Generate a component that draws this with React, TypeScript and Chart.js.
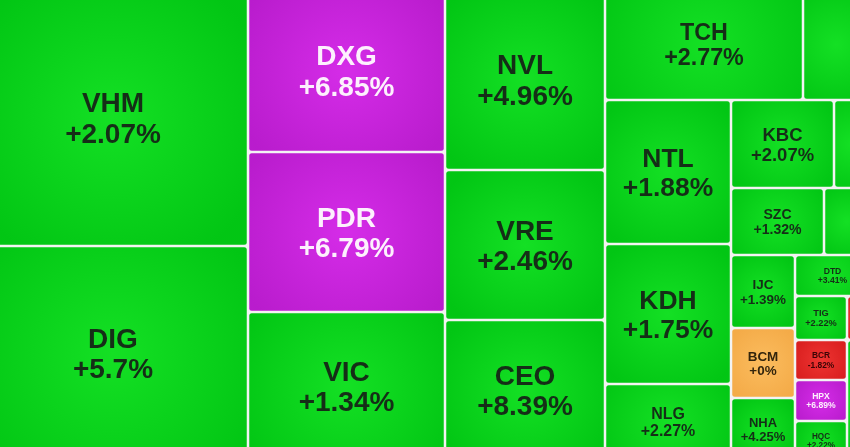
import React, { useEffect, useRef } from "react";
import { Chart, registerables } from "chart.js";

Chart.register(...registerables);

// ---- data ----
const tickers = [
  "VHM", "DIG", "DXG", "PDR", "VIC", "NVL", "VRE", "CEO", "TCH", "",
  "NTL", "KDH", "NLG", "KBC", "", "SZC", "", "IJC", "BCM", "NHA",
  "DTD", "TIG", "BCR", "HPX", "HQC", "", "",
];
// % change (null = cell cut off, value not readable)
const changes: (number | null)[] = [
  2.07, 5.7, 6.85, 6.79, 1.34, 4.96, 2.46, 8.39, 2.77, null,
  1.88, 1.75, 2.27, 2.07, null, 1.32, null, 1.39, 0, 4.25,
  3.41, 2.22, -1.82, 6.89, 2.22, null, null,
];
// trend of the cut-off cells (only their colour is visible)
const hiddenTrend = [1, 1, 1, -1, 1];
// stocks at ceiling price
const ceilingStocks = ["DXG", "PDR", "HPX"];
// cell weights (size of each stock)
const weights = [
  69390, 57780, 32111, 31520, 29156, 28960, 24000, 22400, 21978, 7437,
  18144, 17640, 9576, 9064, 3168, 6231, 3082, 4672, 4480, 3968,
  3075, 2288, 2080, 2132, 2028, 1012, 2760,
];

// ---- grouping tree (h = side by side, v = stacked) ----
type Node = number | { dir: "h" | "v"; kids: Node[] };
const H = (...kids: Node[]): Node => ({ dir: "h", kids });
const V = (...kids: Node[]): Node => ({ dir: "v", kids });

const tree: Node = H(
  V(0, 1),
  V(2, 3, 4),
  V(5, 6, 7),
  V(
    H(8, 9),
    H(
      V(10, 11, 12),
      V(
        H(13, 14),
        H(15, 16),
        H(V(17, 18, 19), V(20, H(V(21, 22, 23, 24), V(25, 26))))
      )
    )
  )
);

function weightOf(n: Node): number {
  if (typeof n === "number") return weights[n];
  return n.kids.reduce((s, k) => s + weightOf(k), 0);
}

type Rect = { i: number; x0: number; y0: number; x1: number; y1: number };
function layout(n: Node, x0: number, y0: number, x1: number, y1: number, out: Rect[]) {
  if (typeof n === "number") {
    out.push({ i: n, x0, y0, x1, y1 });
    return;
  }
  const total = weightOf(n);
  let acc = 0;
  for (const k of n.kids) {
    const a = acc / total;
    acc += weightOf(k);
    const b = acc / total;
    if (n.dir === "h") layout(k, x0 + (x1 - x0) * a, y0, x0 + (x1 - x0) * b, y1, out);
    else layout(k, x0, y0 + (y1 - y0) * a, x1, y0 + (y1 - y0) * b, out);
  }
}

function palette(i: number) {
  const t = tickers[i];
  let hiddenIdx = -1;
  for (let k = 0, c = 0; k <= i; k++) if (changes[k] === null) { if (k === i) hiddenIdx = c; c++; }
  const v = changes[i] !== null ? (changes[i] as number) : hiddenTrend[hiddenIdx];
  if (ceilingStocks.includes(t)) return { inner: "#d52ce8", outer: "#b91ccd", text: "#fdf0fd" };
  if (v > 0) return { inner: "#14e024", outer: "#02c614", text: "#152e17" };
  if (v < 0) return { inner: "#ee3432", outer: "#d81e1e", text: "#3a0505" };
  return { inner: "#fbbc5e", outer: "#f4ab48", text: "#33250c" };
}

const treemapPlugin = {
  id: "treemapCells",
  beforeDraw(chart: any) {
    const { ctx, width, height } = chart;
    ctx.save();
    ctx.fillStyle = "#f3f3f3";
    ctx.fillRect(0, 0, width, height);
    ctx.restore();
  },
  afterDatasetsDraw(chart: any) {
    const { ctx } = chart;
    const xs = chart.scales.x;
    const ys = chart.scales.y;
    const rects: Rect[] = [];
    layout(tree, 0, 0, 1, 1, rects);
    const gap = 1.25;
    for (const r of rects) {
      const px0 = xs.getPixelForValue(r.x0) + gap;
      const px1 = xs.getPixelForValue(r.x1) - gap;
      const py0 = ys.getPixelForValue(r.y0) + gap;
      const py1 = ys.getPixelForValue(r.y1) - gap;
      const w = px1 - px0;
      const h = py1 - py0;
      if (w <= 0 || h <= 0) continue;
      const col = palette(r.i);
      const cx = (px0 + px1) / 2;
      const cy = (py0 + py1) / 2;
      const grad = ctx.createRadialGradient(cx, cy, 0, cx, cy, Math.max(w, h) * 0.6);
      grad.addColorStop(0, col.inner);
      grad.addColorStop(1, col.outer);
      ctx.save();
      ctx.fillStyle = grad;
      ctx.beginPath();
      (ctx as any).roundRect(px0, py0, w, h, 2.5);
      ctx.fill();
      ctx.restore();

      const ch = changes[r.i];
      if (ch === null || tickers[r.i] === "") continue;
      const label2 = (ch >= 0 ? "+" : "") + ch + "%";
      const fs = Math.min(28, 0.21 * Math.min(w + 2 * gap, h + 2 * gap));
      const lineH = 1.08 * fs;
      const capH = 0.72 * fs;
      const top = cy - (lineH + capH) / 2;
      ctx.save();
      ctx.fillStyle = col.text;
      ctx.textAlign = "center";
      ctx.textBaseline = "alphabetic";
      ctx.font = `bold ${fs}px "Liberation Sans", Arial, sans-serif`;
      ctx.fillText(tickers[r.i], cx, top + capH);
      ctx.fillText(label2, cx, top + capH + lineH);
      ctx.restore();
    }
  },
};

export default function App() {
  const ref = useRef<HTMLCanvasElement>(null);
  useEffect(() => {
    if (!ref.current) return;
    const chart = new Chart(ref.current, {
      type: "scatter",
      data: { datasets: [{ data: [], pointRadius: 0 }] },
      options: {
        animation: false,
        responsive: false,
        devicePixelRatio: 1,
        layout: { padding: 0 },
        plugins: { legend: { display: false }, tooltip: { enabled: false } },
        scales: {
          x: { type: "linear", min: 0, max: 1, display: false },
          y: { type: "linear", min: 0, max: 1, reverse: true, display: false },
        },
      },
      plugins: [treemapPlugin],
    });
    return () => chart.destroy();
  }, []);
  return (
    <div
      style={{
        position: "fixed",
        left: 0,
        top: 0,
        width: 850,
        height: 447,
        overflow: "hidden",
        background: "#f3f3f3",
      }}
    >
      <canvas
        ref={ref}
        width={892}
        height={471}
        style={{ position: "absolute", left: -22, top: -11, width: 892, height: 471 }}
      />
    </div>
  );
}
